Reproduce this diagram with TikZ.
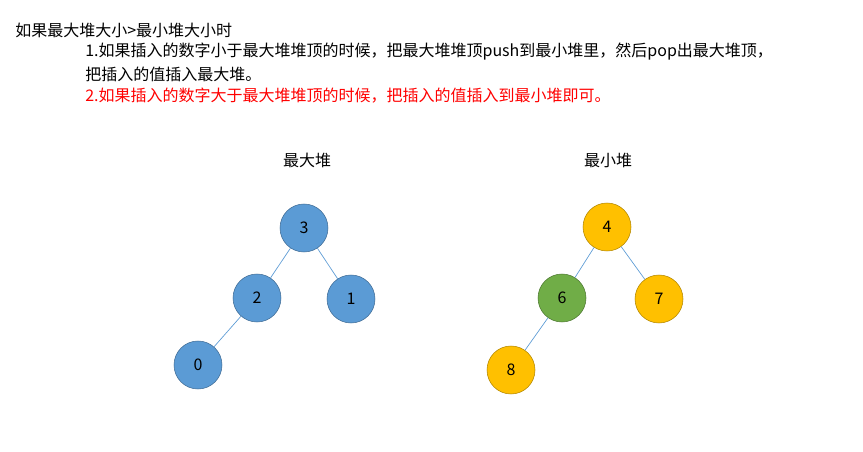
\documentclass[tikz,border=0pt]{standalone}
\usepackage{fontspec}
\setmainfont{Noto Sans CJK SC}
\begin{document}
\begin{tikzpicture}[x=0.75pt,y=-0.75pt,
  txt/.style={anchor=west,inner sep=0pt,font=\fontsize{12}{14}\selectfont},
  hb/.style={circle,minimum size=36pt,inner sep=0pt,draw=#1!70!black,fill=#1,font=\fontsize{12}{14}\selectfont},
  ed/.style={draw=bl,line width=0.5pt}]
\definecolor{bl}{HTML}{5B9BD5}
\definecolor{yl}{HTML}{FFC000}
\definecolor{gr}{HTML}{70AD47}
\useasboundingbox[fill=white] (0,0) rectangle (863,452);
\node[txt] (t1) at (15,30) {如果最大堆大小>最小堆大小时};
\node[txt] (t2) at (85,52) {1.如果插入的数字小于最大堆堆顶的时候，把最大堆堆顶push到最小堆里，然后pop出最大堆顶，};
\node[txt] (t3) at (85,74) {把插入的值插入最大堆。};
\node[txt,text=red] (t4) at (85,96) {2.如果插入的数字大于最大堆堆顶的时候，把插入的值插入到最小堆即可。};
\node[txt,anchor=center] (l1) at (307,160) {最大堆};
\node[txt,anchor=center] (l2) at (608,160) {最小堆};
\node[hb=bl] (a3) at (304,228) {3};
\node[hb=bl] (a2) at (257,298) {2};
\node[hb=bl] (a1) at (351,299) {1};
\node[hb=bl] (a0) at (198,365) {0};
\node[hb=yl] (b4) at (607,227) {4};
\node[hb=gr] (b6) at (562,298) {6};
\node[hb=yl] (b7) at (659,299) {7};
\node[hb=yl] (b8) at (511,370) {8};
\draw[ed] (a3)--(a2); \draw[ed] (a3)--(a1); \draw[ed] (a2)--(a0);
\draw[ed] (b4)--(b6); \draw[ed] (b4)--(b7); \draw[ed] (b6)--(b8);
\end{tikzpicture}
\end{document}
